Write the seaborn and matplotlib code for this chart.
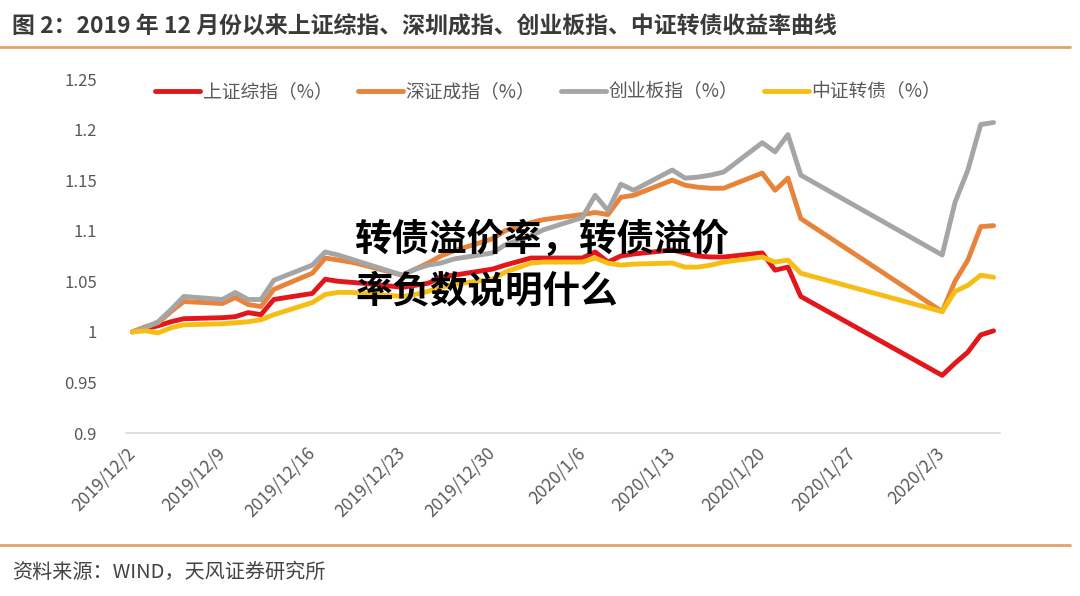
import numpy as np
import pandas as pd
import matplotlib
matplotlib.use("Agg")
import matplotlib.pyplot as plt
import matplotlib.transforms as mtransforms
from matplotlib.lines import Line2D
import seaborn as sns

# ---------------- data ----------------
dates = [
    "2019-12-02", "2019-12-03", "2019-12-04", "2019-12-05", "2019-12-06",
    "2019-12-09", "2019-12-10", "2019-12-11", "2019-12-12", "2019-12-13",
    "2019-12-16", "2019-12-17", "2019-12-18", "2019-12-19", "2019-12-20",
    "2019-12-23", "2019-12-24", "2019-12-25", "2019-12-26", "2019-12-27",
    "2019-12-30", "2019-12-31", "2020-01-02", "2020-01-03",
    "2020-01-06", "2020-01-07", "2020-01-08", "2020-01-09", "2020-01-10",
    "2020-01-13", "2020-01-14", "2020-01-15", "2020-01-16", "2020-01-17",
    "2020-01-20", "2020-01-21", "2020-01-22", "2020-01-23",
    "2020-02-03", "2020-02-04", "2020-02-05", "2020-02-06", "2020-02-07",
]

shanghai = [
    1.000, 1.003, 1.006, 1.010, 1.013,
    1.014, 1.015, 1.019, 1.017, 1.032,
    1.038, 1.052, 1.050, 1.049, 1.048,
    1.044, 1.046, 1.048, 1.054, 1.056,
    1.062, 1.066, 1.073, 1.073,
    1.073, 1.079, 1.069, 1.075, 1.077,
    1.081, 1.078, 1.075, 1.074, 1.074,
    1.078, 1.061, 1.064, 1.035,
    0.957, 0.969, 0.980, 0.997, 1.001,
]

shenzhen = [
    1.000, 1.005, 1.009, 1.020, 1.030,
    1.028, 1.034, 1.027, 1.025, 1.042,
    1.058, 1.073, 1.071, 1.069, 1.066,
    1.056, 1.062, 1.068, 1.075, 1.080,
    1.092, 1.100, 1.108, 1.111,
    1.116, 1.118, 1.116, 1.133, 1.135,
    1.150, 1.145, 1.143, 1.142, 1.142,
    1.157, 1.140, 1.152, 1.112,
    1.020, 1.050, 1.071, 1.104, 1.105,
]

chinext = [
    1.000, 1.004, 1.010, 1.022, 1.035,
    1.032, 1.039, 1.032, 1.032, 1.051,
    1.066, 1.079, 1.076, 1.072, 1.068,
    1.056, 1.062, 1.066, 1.068, 1.072,
    1.078, 1.086, 1.095, 1.101,
    1.113, 1.135, 1.120, 1.146, 1.140,
    1.160, 1.152, 1.153, 1.155, 1.158,
    1.187, 1.178, 1.195, 1.155,
    1.076, 1.128, 1.160, 1.205, 1.207,
]

cbond = [
    1.000, 1.001, 0.999, 1.004, 1.007,
    1.008, 1.009, 1.010, 1.012, 1.017,
    1.029, 1.037, 1.039, 1.039, 1.038,
    1.035, 1.037, 1.040, 1.044, 1.047,
    1.052, 1.059, 1.068, 1.069,
    1.069, 1.073, 1.068, 1.066, 1.067,
    1.068, 1.064, 1.064, 1.066, 1.069,
    1.074, 1.069, 1.071, 1.058,
    1.020, 1.040, 1.046, 1.056, 1.054,
]

series_names = ["上证综指（%）", "深证成指（%）", "创业板指（%）", "中证转债（%）"]
series_colors = ["#E3161C", "#E8833A", "#A5A5A5", "#F6BE15"]

tick_dates = ["2019-12-02", "2019-12-09", "2019-12-16", "2019-12-23", "2019-12-30",
              "2020-01-06", "2020-01-13", "2020-01-20", "2020-01-27", "2020-02-03"]
tick_labels = ["2019/12/2", "2019/12/9", "2019/12/16", "2019/12/23", "2019/12/30",
               "2020/1/6", "2020/1/13", "2020/1/20", "2020/1/27", "2020/2/3"]
y_ticks = [0.9, 0.95, 1.0, 1.05, 1.1, 1.15, 1.2, 1.25]
y_tick_labels = ["0.9", "0.95", "1", "1.05", "1.1", "1.15", "1.2", "1.25"]

title = "图 2：2019 年 12 月份以来上证综指、深圳成指、创业板指、中证转债收益率曲线"
source = "资料来源：WIND，天风证券研究所"
overlay = "转债溢价率，转债溢价\n率负数说明什么"

# ---------------- figure ----------------
sns.set_theme(style="white")
plt.rcParams["font.family"] = ["Noto Sans CJK SC", "DejaVu Sans"]

x = pd.to_datetime(dates) + pd.Timedelta(hours=12)
df = pd.concat([
    pd.DataFrame({"date": x, "value": vals, "series": name})
    for name, vals in zip(series_names, [shanghai, shenzhen, chinext, cbond])
], ignore_index=True)

fig = plt.figure(figsize=(10.8, 5.96), dpi=100)
fig.patch.set_facecolor("white")
ax = fig.add_axes([126 / 1080, 1 - 433 / 596, (1000 - 126) / 1080, (433 - 79) / 596])

sns.lineplot(data=df, x="date", y="value", hue="series",
             palette=dict(zip(series_names, series_colors)),
             linewidth=3.5, ax=ax, legend=False, sort=False)

ax.set_xlim(pd.Timestamp("2019-12-02"), pd.Timestamp("2020-02-08"))
ax.set_ylim(0.9, 1.25)
ax.set_xticks(pd.to_datetime(tick_dates))
ax.set_xticklabels(tick_labels, rotation=45, ha="right", va="top",
                   rotation_mode="anchor", fontsize=12.5, color="#595959")
offset = mtransforms.ScaledTranslation(10 / 100, 0, fig.dpi_scale_trans)
for lbl in ax.get_xticklabels():
    lbl.set_transform(lbl.get_transform() + offset)
ax.set_yticks(y_ticks)
ax.set_yticklabels(y_tick_labels, fontsize=12, color="#595959")
ax.set_xlabel("")
ax.set_ylabel("")
for s in ["left", "right", "top"]:
    ax.spines[s].set_visible(False)
ax.spines["bottom"].set_color("#D9D9D9")
ax.spines["bottom"].set_linewidth(1.2)
ax.tick_params(axis="x", length=4, color="#D9D9D9", width=1, pad=4, direction="out")
ax.tick_params(axis="y", length=0, pad=21)
ax.grid(False)

handles = [Line2D([0], [0], color=c, lw=3.5) for c in series_colors]
ax.legend(handles, series_names, loc="center left",
          bbox_to_anchor=((155 - 126) / 874, (433 - 92) / 354),
          ncol=4, frameon=False, fontsize=13.5, handlelength=2.4,
          handletextpad=0.15, columnspacing=1.35, labelcolor="#595959",
          borderaxespad=0, borderpad=0)

# overlay text
fig.text(355 / 1080, 1 - 220 / 596, overlay, fontsize=27, fontweight="heavy",
         color="black", ha="left", va="top", linespacing=1.42)

# title, rules, source
fig.text(12 / 1080, 1 - 27 / 596, title, fontsize=16.5, fontweight="bold",
         color="#3A3A3A", ha="left", va="center")
fig.add_artist(Line2D([0, 1070 / 1080], [1 - 47 / 596, 1 - 47 / 596],
                      transform=fig.transFigure, color="#E0A468", lw=2))
fig.add_artist(Line2D([0, 1070 / 1080], [1 - 545 / 596, 1 - 545 / 596],
                      transform=fig.transFigure, color="#E0A468", lw=2))
fig.text(12 / 1080, 1 - 572 / 596, source, fontsize=14.5, color="#444444",
         ha="left", va="center")

fig.savefig("out.png", dpi=100, facecolor="white")
